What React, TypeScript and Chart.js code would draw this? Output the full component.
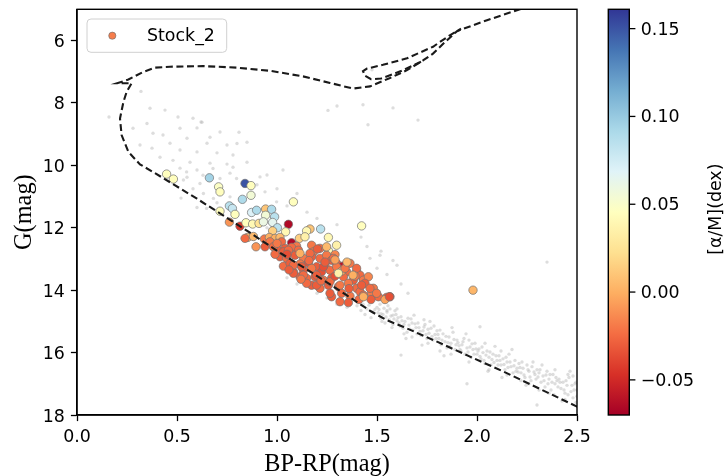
import { useEffect, useRef } from "react";
import { Chart, registerables } from "chart.js";

Chart.register(...registerables);

// Axis ranges and tick values
const xRange = [0, 2.5];
const gRange = [5, 18];
const alphaRange = [-0.07, 0.161];
const xTicks = [0, 0.5, 1.0, 1.5, 2.0, 2.5];
const gTicks = [6, 8, 10, 12, 14, 16, 18];
const alphaTicks = [-0.05, 0.0, 0.05, 0.1, 0.15];

const seriesLabel = "Stock_2";
const xTitle = "BP-RP(mag)";
const yTitle = "G(mag)";
const cbTitle = "[α/M](dex)";

// Field stars: [BP-RP, G]
const fieldStars: [number, number][] = [
  [0.16, 8.45], [0.32, 7.63], [0.365, 8.17], [0.44, 8.23], [0.35, 8.66], [0.505, 8.45], [0.58, 8.49],
  [0.62, 8.61], [0.515, 8.81], [0.28, 8.81], [0.6, 8.8], [0.715, 8.93], [0.81, 8.94], [0.38, 8.97],
  [0.43, 9.03], [0.55, 9.13], [0.465, 9.29], [0.65, 9.29], [0.75, 9.35], [0.85, 9.26], [0.315, 9.35],
  [0.375, 9.45], [0.515, 9.51], [0.6, 9.57], [0.7, 9.6], [0.78, 9.67], [0.415, 9.74], [0.48, 9.84],
  [0.565, 9.9], [0.665, 9.93], [0.75, 9.96], [0.515, 10.09], [0.6, 10.15], [0.68, 10.1], [0.78, 10.06],
  [0.85, 9.9], [0.55, 10.38], [0.63, 10.32], [0.715, 10.42], [0.765, 10.25], [1.03, 10.15], [0.95, 10.31],
  [1.3, 8.1], [1.43, 8.06], [1.58, 8.16], [1.455, 8.7], [1.705, 8.55], [1.255, 8.24], [1.475, 6.94],
  [0.8, 9.3], [0.665, 9.1], [0.625, 8.62], [0.548, 10.21], [0.532, 10.47], [0.615, 10.58], [0.798, 10.42],
  [0.915, 10.37], [0.632, 10.9], [0.682, 11.06], [0.765, 11.01], [0.94, 10.85], [0.998, 11.17],
  [0.648, 11.38], [0.9, 10.62], [1.0, 10.75], [1.1, 10.9], [1.05, 11.3], [1.15, 11.5], [1.2, 11.7],
  [1.3, 11.9], [0.58, 10.75], [0.7, 11.2], [0.52, 11.05], [0.6, 11.35],
  [1.3, 14.45], [1.35, 14.55], [1.4, 14.5], [1.42, 14.65], [1.45, 14.6], [1.48, 14.7], [1.5, 14.55],
  [1.52, 14.75], [1.55, 14.65], [1.58, 14.8], [1.6, 14.6], [1.25, 14.25], [1.2, 14.1], [1.1, 13.8],
  [1.05, 13.6], [1.465, 12.98], [1.515, 12.88], [1.6, 13.2], [1.655, 14.1], [1.55, 13.5], [1.62, 13.8],
  [1.45, 12.6], [1.52, 12.75], [1.58, 13.05], [1.5, 13.3], [1.42, 12.3], [0.95, 12.0], [1.0, 12.3],
  [1.1, 12.6], [1.2, 12.9], [1.3, 13.3], [1.35, 13.6],
  [1.41, 14.35], [1.43, 14.45], [1.46, 14.48], [1.49, 14.62], [1.44, 14.78], [1.47, 14.88],
  [1.51, 14.62], [1.52, 14.9], [1.53, 14.78], [1.54, 15.05], [1.55, 14.7], [1.56, 14.95], [1.57, 14.83],
  [1.58, 15.1], [1.59, 14.66], [1.6, 14.98], [1.555, 14.5], [1.575, 15.2],
  [1.505, 14.72], [1.515, 14.45], [1.535, 14.58], [1.545, 14.86], [1.565, 14.6], [1.585, 14.92],
  [1.595, 14.78], [1.525, 15.0],
  [1.61, 15.05], [1.62, 14.85], [1.63, 15.22], [1.64, 15.0], [1.65, 15.35], [1.66, 15.12], [1.67, 14.92],
  [1.68, 15.28], [1.69, 15.08], [1.7, 15.4], [1.645, 15.55], [1.685, 14.8], [1.62, 16.08],
  [1.605, 14.88], [1.615, 15.15], [1.625, 14.98], [1.635, 15.1], [1.655, 14.9], [1.665, 15.25],
  [1.675, 15.05], [1.695, 15.2], [1.635, 15.4], [1.675, 15.5],
  [1.71, 15.2], [1.72, 15.45], [1.73, 15.3], [1.74, 15.1], [1.75, 15.55], [1.76, 15.38], [1.77, 15.22],
  [1.78, 15.6], [1.79, 15.42], [1.8, 15.3], [1.725, 15.76], [1.765, 15.0],
  [1.705, 15.05], [1.715, 15.32], [1.735, 15.18], [1.745, 15.42], [1.755, 15.25], [1.775, 15.48],
  [1.785, 15.15], [1.795, 15.55], [1.755, 15.7], [1.735, 14.95],
  [1.81, 15.55], [1.82, 15.75], [1.83, 15.4], [1.84, 15.65], [1.85, 15.85], [1.86, 15.5], [1.87, 15.7],
  [1.88, 15.35], [1.89, 15.9], [1.9, 15.6], [1.835, 16.1], [1.875, 15.2],
  [1.805, 15.42], [1.815, 15.28], [1.825, 15.6], [1.845, 15.48], [1.855, 15.68], [1.865, 15.8],
  [1.885, 15.58], [1.895, 15.75], [1.815, 15.95], [1.87, 16.05],
  [1.91, 15.78], [1.92, 15.95], [1.93, 15.65], [1.94, 16.05], [1.95, 15.85], [1.96, 15.6], [1.97, 16.15],
  [1.98, 15.9], [1.99, 15.7], [2.0, 16.05], [1.95, 17.0], [1.945, 15.4],
  [1.905, 15.68], [1.915, 15.9], [1.925, 15.75], [1.935, 15.55], [1.955, 15.98], [1.965, 15.82],
  [1.975, 15.72], [1.985, 16.05], [1.995, 15.88], [1.96, 16.3],
  [2.01, 15.88], [2.02, 16.2], [2.03, 16.0], [2.04, 16.35], [2.05, 15.95], [2.06, 16.15], [2.07, 16.4],
  [2.08, 16.05], [2.09, 15.8], [2.1, 16.25], [2.015, 15.17], [2.055, 16.6],
  [2.005, 15.95], [2.015, 16.12], [2.025, 15.82], [2.035, 16.25], [2.045, 16.08], [2.065, 15.98],
  [2.075, 16.22], [2.085, 16.32], [2.095, 16.1], [2.06, 16.55], [2.04, 15.7],
  [2.11, 16.1], [2.12, 16.4], [2.13, 16.2], [2.14, 16.55], [2.15, 16.3], [2.16, 16.05], [2.17, 16.45],
  [2.18, 16.65], [2.19, 16.25], [2.2, 16.5], [2.125, 16.8], [2.175, 15.9],
  [2.105, 16.4], [2.115, 16.25], [2.135, 16.38], [2.145, 16.15], [2.155, 16.48], [2.165, 16.3],
  [2.185, 16.42], [2.195, 16.6], [2.15, 16.72], [2.12, 15.95],
  [2.21, 16.35], [2.22, 16.65], [2.23, 16.5], [2.24, 16.8], [2.25, 16.4], [2.26, 16.6], [2.27, 16.9],
  [2.28, 16.3], [2.29, 16.7], [2.3, 16.55], [2.3, 17.68], [2.245, 17.05],
  [2.205, 16.62], [2.215, 16.48], [2.225, 16.3], [2.235, 16.72], [2.255, 16.55], [2.265, 16.78],
  [2.275, 16.45], [2.285, 16.62], [2.295, 16.85], [2.26, 17.0], [2.22, 16.9],
  [2.31, 16.65], [2.32, 16.95], [2.33, 16.75], [2.34, 17.1], [2.35, 16.6], [2.36, 16.85], [2.37, 17.2],
  [2.38, 16.7], [2.39, 17.0], [2.4, 16.9], [2.35, 13.1], [2.325, 16.4], [2.385, 17.35],
  [2.305, 16.78], [2.315, 16.55], [2.335, 16.9], [2.345, 16.72], [2.355, 17.0], [2.365, 16.7],
  [2.375, 16.95], [2.395, 16.8], [2.31, 17.2], [2.36, 17.3], [2.39, 16.55],
  [2.41, 16.85], [2.42, 17.15], [2.43, 16.95], [2.44, 17.3], [2.45, 17.05], [2.46, 16.8], [2.47, 17.25],
  [2.48, 17.45], [2.49, 17.0], [2.5, 17.2], [2.425, 17.55], [2.465, 16.6], [2.495, 17.6],
  [2.405, 17.1], [2.415, 16.95], [2.435, 17.2], [2.445, 16.9], [2.455, 17.35], [2.475, 17.05],
  [2.485, 17.2], [2.495, 16.95], [2.44, 17.5], [2.48, 16.75], [2.5, 17.4], [2.455, 16.7],
];

// Stock_2 members: [BP-RP, G, [α/M]]
const stock2Stars: [number, number, number][] = [
  [0.448, 10.28, 0.045], [0.482, 10.44, 0.045], [0.662, 10.4, 0.095], [0.84, 10.58, 0.15],
  [0.87, 10.65, 0.045], [0.708, 10.69, 0.048], [0.715, 10.85, 0.045], [0.87, 10.96, 0.055],
  [0.827, 11.09, 0.09], [1.082, 11.17, 0.045], [0.762, 11.3, 0.085], [0.777, 11.38, 0.08],
  [0.715, 11.47, 0.045], [0.79, 11.57, 0.045], [0.762, 11.82, -0.01], [0.815, 11.95, -0.045],
  [0.873, 11.51, 0.07], [0.898, 11.44, 0.09], [0.943, 11.4, 0.01], [0.973, 11.41, 0.09],
  [0.943, 11.6, 0.055], [0.988, 11.65, 0.085], [0.845, 11.84, 0.045], [0.878, 11.88, 0.04],
  [0.91, 11.86, 0.025], [0.932, 11.81, 0.06], [0.978, 11.83, 0.065], [1.057, 11.89, -0.065],
  [1.002, 12.0, 0.085], [0.978, 12.1, 0.015], [1.043, 12.13, 0.04], [1.165, 12.04, 0.01],
  [1.148, 12.1, 0.04], [1.218, 12.04, 0.085], [1.423, 11.94, 0.045], [0.853, 12.31, 0.0],
  [0.882, 12.28, 0.005], [0.895, 12.61, -0.01], [0.937, 12.36, -0.02], [0.962, 12.31, 0.0],
  [0.99, 12.34, 0.0], [1.015, 12.31, 0.005], [1.073, 12.48, -0.065], [1.112, 12.34, 0.015],
  [1.14, 12.29, 0.035], [1.257, 12.31, 0.04], [0.965, 12.45, -0.02], [1.023, 12.45, -0.025],
  [1.098, 12.59, -0.02], [1.173, 12.56, -0.02], [1.298, 12.56, 0.035], [1.257, 12.74, 0.04],
  [1.007, 12.72, -0.03], [1.04, 12.66, -0.03], [1.073, 12.63, -0.025], [1.107, 12.72, -0.025],
  [1.182, 12.77, -0.02], [1.215, 12.66, -0.025], [1.29, 12.86, -0.015], [1.015, 12.93, -0.03],
  [1.048, 12.98, -0.025], [1.09, 12.88, -0.03], [1.132, 12.98, -0.02], [1.173, 12.93, -0.03],
  [1.215, 12.98, -0.025], [1.248, 12.88, -0.02], [1.273, 13.04, -0.03], [1.032, 13.23, -0.025],
  [1.065, 13.14, -0.03], [1.115, 13.16, -0.02], [1.157, 13.12, -0.035], [1.198, 13.25, -0.03],
  [1.24, 13.2, -0.025], [1.298, 13.14, -0.03], [1.328, 13.23, -0.06], [1.365, 13.14, -0.02],
  [1.082, 13.41, -0.025], [1.132, 13.36, -0.03], [1.173, 13.3, -0.02], [1.223, 13.41, -0.035],
  [1.265, 13.36, -0.025], [1.315, 13.46, -0.02], [1.348, 13.41, -0.025], [1.398, 13.41, -0.015],
  [1.415, 13.52, -0.025], [1.115, 13.57, -0.03], [1.148, 13.62, -0.025], [1.19, 13.57, -0.03],
  [1.232, 13.68, -0.02], [1.273, 13.62, -0.03], [1.332, 13.57, -0.025], [1.382, 13.68, -0.03],
  [1.432, 13.68, -0.02], [1.457, 13.57, -0.015], [1.173, 13.84, -0.03], [1.215, 13.94, -0.025],
  [1.257, 13.84, -0.03], [1.307, 13.89, -0.025], [1.357, 13.78, -0.02], [1.398, 13.94, -0.025],
  [1.44, 13.78, -0.03], [1.482, 13.94, -0.02], [1.273, 14.21, -0.03], [1.323, 14.1, -0.025],
  [1.365, 14.19, -0.02], [1.415, 14.05, -0.025], [1.473, 14.1, -0.02], [1.507, 14.21, -0.025],
  [1.548, 14.23, -0.03], [1.565, 14.21, -0.035], [1.357, 14.4, -0.03], [1.98, 14.0, 0.003],
  [0.84, 12.34, -0.025], [0.94, 12.61, -0.03], [0.982, 12.61, -0.025], [1.032, 12.77, -0.03],
  [1.057, 12.72, -0.025], [1.115, 12.82, 0.0], [1.165, 12.82, -0.025], [1.202, 12.68, -0.03],
  [1.248, 12.61, 0.005], [1.282, 12.98, -0.025], [1.082, 13.2, -0.025], [1.123, 13.25, -0.03],
  [1.232, 13.25, -0.035], [1.298, 13.25, -0.02], [1.398, 13.3, -0.025], [1.082, 13.46, -0.03],
  [1.132, 13.52, -0.025], [1.198, 13.52, -0.03], [1.325, 13.38, -0.005], [1.148, 13.78, -0.025],
  [1.198, 13.84, -0.03], [1.265, 13.73, -0.025], [1.315, 13.84, -0.02], [1.423, 13.84, -0.03],
  [1.465, 13.94, -0.025], [1.265, 14.1, -0.03], [1.432, 14.16, -0.025], [1.498, 14.1, -0.02],
  [1.315, 14.37, -0.025], [1.0, 12.5, -0.02], [1.05, 12.85, -0.035], [1.16, 13.05, -0.025],
  [1.24, 13.1, -0.03], [1.34, 13.3, -0.02], [1.29, 13.55, -0.035], [1.22, 13.7, -0.025],
  [1.36, 13.95, -0.03], [1.41, 14.3, -0.025], [1.47, 14.3, -0.03], [1.12, 13.65, -0.02],
  [1.06, 13.35, -0.03], [0.99, 12.85, -0.025], [1.39, 13.55, -0.02], [1.29, 13.03, -0.005],
  [1.35, 13.1, 0.005], [1.307, 13.46, 0.035], [1.38, 13.52, 0.0], [1.432, 14.21, 0.0],
  [1.54, 14.3, -0.005], [1.562, 14.21, -0.035],
];

// Isochrone: main sequence, turn-off, subgiant and red giant branch
const isochroneMain: [number, number][] = [
  [2.55, 17.88], [2.5, 17.73], [2.3, 17.12], [2.13, 16.6], [1.965, 16.13], [1.8, 15.65], [1.63, 15.17],
  [1.548, 14.96], [1.465, 14.66], [1.35, 14.17], [1.18, 13.46], [1.015, 12.8], [0.865, 12.16],
  [0.715, 11.54], [0.6, 11.07], [0.48, 10.6], [0.39, 10.25], [0.315, 9.97], [0.257, 9.57],
  [0.223, 9.03], [0.215, 8.5], [0.232, 7.97], [0.248, 7.65], [0.273, 7.37], [0.2, 7.37],
  [0.257, 7.25], [0.33, 7.01], [0.39, 6.87], [0.465, 6.84], [0.63, 6.82], [0.8, 6.87],
  [0.965, 6.97], [1.13, 7.15], [1.265, 7.36], [1.38, 7.54], [1.465, 7.47], [1.565, 7.2],
  [1.65, 6.95], [1.73, 6.64], [1.78, 6.42], [1.84, 6.05], [1.9, 5.7], [2.05, 5.35], [2.2, 5.03],
  [2.35, 4.72],
];

// Isochrone: core helium burning loop and asymptotic giant branch
const isochroneHeB: [number, number][] = [
  [1.72, 6.68], [1.62, 6.98], [1.52, 7.22], [1.47, 7.24], [1.44, 7.13], [1.43, 6.98], [1.45, 6.9],
  [1.53, 6.78], [1.65, 6.57], [1.78, 6.2], [1.86, 5.85], [1.92, 5.62],
];

// RdYlBu colour map anchors
const RDYLBU: [number, number, number][] = [
  [165, 0, 38], [215, 48, 39], [244, 109, 67], [253, 174, 97], [254, 224, 144], [255, 255, 191],
  [224, 243, 248], [171, 217, 233], [116, 173, 209], [69, 117, 180], [49, 54, 149],
];

function rdylbu(t: number): string {
  const c = Math.max(0, Math.min(1, t)) * 10;
  const i = Math.min(9, Math.floor(c));
  const f = c - i;
  const a = RDYLBU[i];
  const b = RDYLBU[i + 1];
  const mix = (k: number) => Math.round(a[k] + (b[k] - a[k]) * f);
  return `rgb(${mix(0)},${mix(1)},${mix(2)})`;
}

function alphaColor(v: number): string {
  return rdylbu((v - alphaRange[0]) / (alphaRange[1] - alphaRange[0]));
}

const TICK_FONT = "17.4px 'DejaVu Sans'";
const TITLE_FONT = "24.3px 'Liberation Serif'";

const decorPlugin = {
  id: "decor",
  afterDatasetsDraw(chart: any) {
    const { ctx, chartArea: a } = chart;
    ctx.save();
    // axes frame
    ctx.strokeStyle = "#000";
    ctx.lineWidth = 1.4;
    ctx.strokeRect(a.left, a.top, a.right - a.left, a.bottom - a.top);

    // legend box
    const lx = a.left + 10, ly = a.top + 9.7, lw = 139.7, lh = 33.3;
    ctx.beginPath();
    ctx.roundRect(lx, ly, lw, lh, 4);
    ctx.fillStyle = "rgba(255,255,255,0.8)";
    ctx.fill();
    ctx.strokeStyle = "#d0d0d0";
    ctx.lineWidth = 1;
    ctx.stroke();
    ctx.beginPath();
    ctx.arc(lx + 25.3, ly + 16.7, 3.6, 0, Math.PI * 2);
    ctx.fillStyle = alphaColor(-0.018);
    ctx.fill();
    ctx.strokeStyle = "rgba(110,110,110,0.9)";
    ctx.lineWidth = 0.7;
    ctx.stroke();
    ctx.fillStyle = "#000";
    ctx.font = TICK_FONT;
    ctx.textAlign = "left";
    ctx.textBaseline = "middle";
    ctx.fillText(seriesLabel, lx + 60, ly + 17);
    ctx.restore();
  },
  afterDraw(chart: any) {
    const { ctx, chartArea: a } = chart;
    const cb = chart.scales.cb;
    ctx.save();

    // colour bar
    const x0 = a.right + 31.3;
    const w = 21;
    const yTop = cb.getPixelForValue(alphaRange[1]);
    const yBot = cb.getPixelForValue(alphaRange[0]);
    const grad = ctx.createLinearGradient(0, yBot, 0, yTop);
    RDYLBU.forEach((c, i) => grad.addColorStop(i / 10, `rgb(${c[0]},${c[1]},${c[2]})`));
    ctx.fillStyle = grad;
    ctx.fillRect(x0, yTop, w, yBot - yTop);
    ctx.strokeStyle = "#000";
    ctx.lineWidth = 1.4;
    ctx.strokeRect(x0, yTop, w, yBot - yTop);

    ctx.font = TICK_FONT;
    ctx.fillStyle = "#000";
    ctx.textAlign = "left";
    ctx.textBaseline = "middle";
    ctx.lineWidth = 1.3;
    alphaTicks.forEach((v) => {
      const y = cb.getPixelForValue(v);
      ctx.beginPath();
      ctx.moveTo(x0 + w, y);
      ctx.lineTo(x0 + w + 6.1, y);
      ctx.stroke();
      ctx.fillText(v.toFixed(2).replace("-", "\u2212"), x0 + w + 11.5, y + 1.5);
    });

    // colour bar label
    ctx.save();
    ctx.translate(a.right + 144, (yTop + yBot) / 2 - 3);
    ctx.rotate(-Math.PI / 2);
    ctx.textAlign = "center";
    ctx.textBaseline = "alphabetic";
    ctx.fillText(cbTitle, 0, 0);
    ctx.restore();

    // axis titles
    ctx.font = TITLE_FONT;
    ctx.textAlign = "center";
    ctx.textBaseline = "alphabetic";
    ctx.fillText(xTitle, (a.left + a.right) / 2, a.bottom + 56);
    ctx.save();
    ctx.translate(a.left - 46, (a.top + a.bottom) / 2);
    ctx.rotate(-Math.PI / 2);
    ctx.fillText(yTitle, 0, 0);
    ctx.restore();

    ctx.restore();
  },
};

export default function App() {
  const canvasRef = useRef<HTMLCanvasElement | null>(null);

  useEffect(() => {
    const canvas = canvasRef.current;
    if (!canvas) return;

    const tickCommon = {
      font: { family: "DejaVu Sans", size: 17.4 },
      color: "#000",
      autoSkip: false,
      maxRotation: 0,
    };
    const gridCommon = {
      display: true,
      drawOnChartArea: false,
      drawTicks: true,
      tickLength: 6.1,
      tickColor: "#000",
      tickWidth: 1.3,
      color: "#000",
    };

    const chart = new Chart(canvas, {
      type: "scatter",
      data: {
        datasets: [
          {
            label: "isochrone",
            data: isochroneMain.map(([x, y]) => ({ x, y })),
            showLine: true,
            pointRadius: 0,
            borderColor: "#1a1a1a",
            borderWidth: 2.1,
            borderDash: [7, 3.6],
            tension: 0,
            fill: false,
            clip: 0,
            order: 0,
          },
          {
            label: "isochrone HeB",
            data: isochroneHeB.map(([x, y]) => ({ x, y })),
            showLine: true,
            pointRadius: 0,
            borderColor: "#1a1a1a",
            borderWidth: 2.1,
            borderDash: [7, 3.6],
            tension: 0,
            fill: false,
            clip: 0,
            order: 0,
          },
          {
            label: seriesLabel,
            data: stock2Stars.map(([x, y]) => ({ x, y })),
            pointRadius: 4.2,
            pointBackgroundColor: stock2Stars.map(([, , v]) => alphaColor(v)),
            pointBorderColor: "rgba(115,115,115,0.9)",
            pointBorderWidth: 0.8,
            order: 1,
          },
          {
            label: "field",
            data: fieldStars.map(([x, y]) => ({ x, y })),
            pointRadius: 1.7,
            pointBorderWidth: 0,
            pointBackgroundColor: "rgba(180,180,180,0.45)",
            order: 2,
          },
        ],
      },
      options: {
        responsive: false,
        devicePixelRatio: 1,
        animation: false,
        events: [],
        layout: { padding: { top: 9.3, left: 0, right: 0, bottom: 0 } },
        plugins: { legend: { display: false }, tooltip: { enabled: false } },
        scales: {
          x: {
            type: "linear",
            position: "bottom",
            min: xRange[0],
            max: xRange[1],
            afterBuildTicks: (s: any) => {
              s.ticks = xTicks.map((v) => ({ value: v }));
            },
            afterFit: (s: any) => {
              s.height = 61;
              s.paddingLeft = 0;
              s.paddingRight = 0;
            },
            ticks: { ...tickCommon, padding: 6, callback: (v: any) => Number(v).toFixed(1) },
            grid: gridCommon,
            border: { display: true, color: "#000", width: 1.4 },
          },
          y: {
            type: "linear",
            position: "left",
            reverse: true,
            min: gRange[0],
            max: gRange[1],
            afterBuildTicks: (s: any) => {
              s.ticks = gTicks.map((v) => ({ value: v }));
            },
            afterFit: (s: any) => {
              s.width = 77;
              s.paddingTop = 0;
              s.paddingBottom = 0;
            },
            ticks: { ...tickCommon, padding: 6, labelOffset: 2, callback: (v: any) => String(v) },
            grid: gridCommon,
            border: { display: true, color: "#000", width: 1.4 },
          },
          cb: {
            type: "linear",
            position: "right",
            min: alphaRange[0],
            max: alphaRange[1],
            afterFit: (s: any) => {
              s.width = 149;
              s.paddingTop = 0;
              s.paddingBottom = 0;
            },
            ticks: { display: false },
            grid: { display: false },
            border: { display: false },
          },
        },
      },
      plugins: [decorPlugin],
    } as any);

    return () => chart.destroy();
  }, []);

  return (
    <div style={{ position: "fixed", left: 0, top: 0, width: 726, height: 476, background: "#fff" }}>
      <canvas ref={canvasRef} width={726} height={476} style={{ display: "block" }} />
    </div>
  );
}
